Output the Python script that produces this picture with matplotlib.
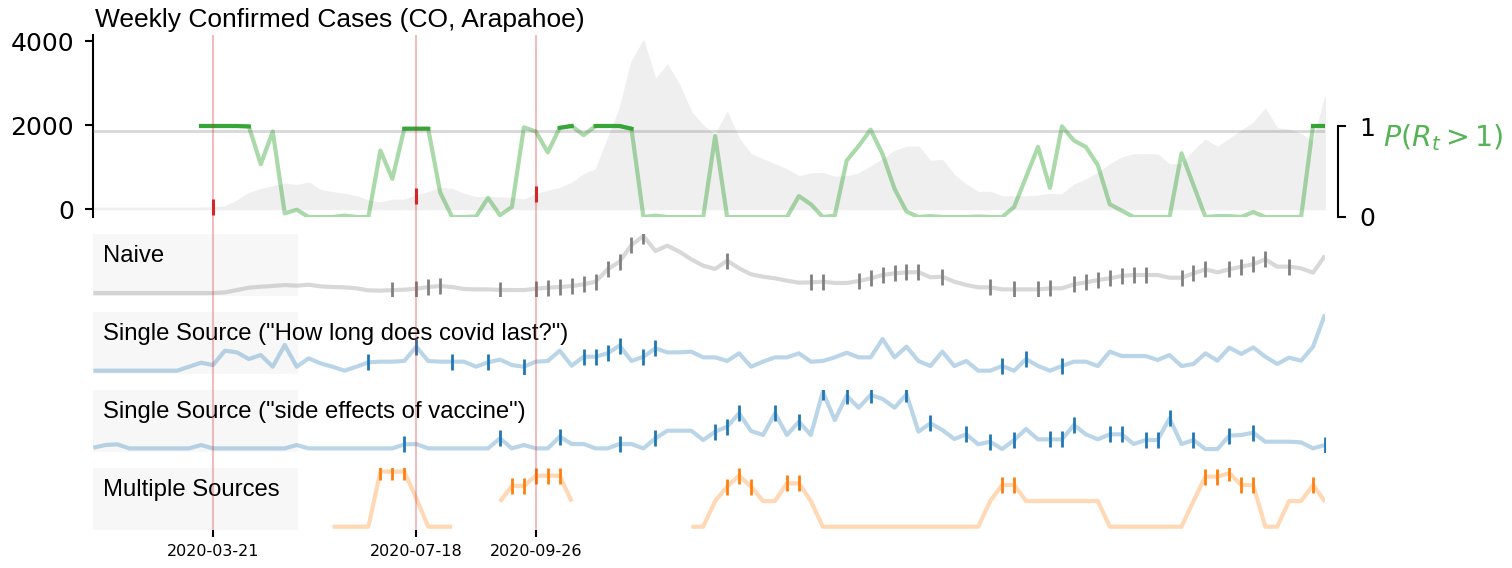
import matplotlib
matplotlib.use('Agg')
import matplotlib.pyplot as plt
import numpy as np
import pandas as pd
from matplotlib.patches import Rectangle

nan = np.nan

# weekly grid
weeks = pd.date_range('2020-01-11', periods=104, freq='7D')
event_dates = pd.to_datetime(['2020-03-21', '2020-07-18', '2020-09-26'])

cases = [30, 30, 30, 30, 30, 30, 30, 30, 30, 30,
         40, 60, 200, 380, 475, 540, 600, 570, 630, 450,
         400, 360, 305, 200, 150, 220, 220, 320, 400, 500,
         475, 360, 280, 280, 275, 265, 220, 350, 430, 500,
         620, 830, 940, 1670, 2390, 3520, 4020, 3095, 3440, 2960,
         2310, 1990, 1765, 2310, 1670, 1305, 1185, 1065, 940, 780,
         845, 860, 765, 780, 845, 1010, 1185, 1385, 1480, 1490,
         1145, 1170, 805, 580, 400, 410, 300, 300, 300, 315,
         360, 345, 580, 700, 860, 1065, 1225, 1305, 1305, 1300,
         1065, 1065, 1385, 1650, 1480, 1670, 1870, 2055, 2390, 1925,
         1895, 1790, 1590, 2660]

p_rt = [nan] * 9 + [
    1.0, 1.0, 1.0, 1.0, 0.995, 0.58, 0.94, 0.04, 0.08, 0.0,
    0.0, 0.0, 0.015, 0.0, 0.0, 0.73, 0.42, 0.97, 0.97, 0.97,
    0.27, 0.0, 0.0, 0.005, 0.21, 0.02, 0.11, 0.985, 0.94, 0.71,
    0.98, 1.0, 0.90, 1.0, 1.0, 1.0, 0.97, 0.0, 0.015, 0.0,
    0.0, 0.0, 0.0, 0.89, 0.0, 0.0, 0.0, 0.0, 0.0, 0.0,
    0.23, 0.14, 0.0, 0.015, 0.62, 0.78, 0.96, 0.69, 0.31, 0.06,
    0.0, 0.01, 0.0, 0.0, 0.0, 0.005, 0.0, 0.0, 0.11, 0.44,
    0.77, 0.32, 0.996, 0.84, 0.77, 0.57, 0.14, 0.07, 0.0, 0.0,
    0.0, 0.0, 0.70, 0.35, 0.0, 0.01, 0.01, 0.0, 0.055, 0.0,
    0.0, 0.0, 0.0, 1.0, 1.0]

naive = [4.3, 4.3, 4.3, 4.3, 4.3, 4.3, 4.3, 4.3, 4.3, 4.3,
         4.3, 5.4, 9.2, 13, 14.7, 15.8, 17.4, 16.3, 17.9, 15.2,
         14.1, 13.6, 12, 8.7, 8.2, 9.2, 9.8, 11.4, 14.1, 15.8,
         14.1, 10.9, 10.3, 10.3, 9.5, 9.2, 9.2, 11.4, 13, 14.1,
         15.8, 18.5, 22.8, 42.9, 55.4, 82.6, 97.3, 72.8, 81.5, 71.7,
         59.2, 48.9, 43.5, 57.1, 44.6, 34.8, 31, 28.3, 24.5, 21.2,
         21.7, 22.8, 20.7, 20.7, 23.9, 28.3, 33.7, 36.4, 38, 38.5,
         29.9, 31, 22.8, 17.4, 13.6, 13.6, 10.3, 10.3, 10.3, 10.3,
         12, 12, 18.5, 21.7, 25.5, 28.3, 32.1, 33.7, 33.7, 33.7,
         29.3, 29.3, 36.4, 42.9, 38, 42.9, 47.3, 51.1, 59.2, 47.3,
         47.3, 44.6, 37.5, 65.2]

single_covid = [4.9, 4.9, 4.9, 4.9, 4.9, 4.9, 4.9, 4.9, 11.4, 17.9,
                14.1, 37.5, 34.8, 23.9, 30.4, 11.4, 46.7, 11.4, 25, 16.8,
                11.4, 4.9, 11.4, 18.5, 19.6, 19.6, 20.7, 44, 20.7, 19.6,
                19.6, 19.6, 11.4, 18.5, 23, 14.1, 11.4, 19.6, 20.7, 37.5,
                13, 27.7, 27.7, 33.2, 45.7, 20.7, 27.7, 41.3, 34.8, 34.8,
                35.9, 26.6, 26.6, 20.7, 33.2, 11.4, 19.6, 26.6, 26.6, 33.2,
                19.6, 20.7, 26.6, 34.2, 26.6, 26.6, 56.5, 26.6, 44, 20.7,
                12.5, 35.9, 12.5, 20.7, 4.9, 4.9, 12.5, 4.9, 23.9, 12.5,
                4.9, 12.5, 19.6, 19.6, 12.5, 35.9, 28.8, 28.8, 28.8, 22.3,
                30.4, 12.5, 15.8, 33.2, 21.2, 42.4, 32.1, 42.9, 27.7, 15.8,
                26.1, 21.2, 44, 96.7]

single_vaccine = [6.5, 10.9, 12, 5.4, 5.4, 5.4, 5.4, 5.4, 5.4, 10.9,
                  5.4, 5.4, 5.4, 5.4, 5.4, 5.4, 5.4, 10.9, 5.4, 5.4,
                  5.4, 5.4, 5.4, 5.4, 5.4, 5.4, 12, 12.5, 5.4, 5.4,
                  5.4, 5.4, 5.4, 5.4, 21.7, 5.4, 10.9, 5.4, 5.4, 24.5,
                  12.5, 12.5, 5.4, 5.4, 12.5, 12.5, 5.4, 21.7, 34.2, 34.2,
                  34.2, 19, 32.6, 40.8, 62.5, 33.7, 27.2, 62.5, 27.2, 48.9,
                  27.2, 97.8, 51.6, 91.3, 71.7, 92.4, 85.9, 71.7, 93.5, 32.6,
                  46.2, 35.3, 20.7, 28.3, 12, 16.3, 4.3, 19, 37, 20.1,
                  20.1, 20.1, 43.5, 28.3, 20.1, 28.3, 28.3, 12.5, 19, 19,
                  54.3, 12.5, 19, 4.3, 4.3, 26.1, 27.2, 31, 16.3, 16.3,
                  16.3, 15.2, 5.4, 10.9]

multiple = [nan] * 20 + [
    4.9, 4.9, 4.9, 4.9, 94.6, 94.6, 94.6, 51.1, 4.9, 4.9,
    4.9, nan, nan, nan, 45.7, 71.2, 71.2, 88, 88, 88,
    45.7, nan, nan, nan, nan, nan, nan, nan, nan, nan,
    4.9, 4.9, 46.7, 70.1, 88, 70.1, 46.7, 46.7, 75.5, 75.5,
    46.7, 4.9, 4.9, 4.9, 4.9, 4.9, 4.9, 4.9, 4.9, 4.9,
    4.9, 4.9, 4.9, 4.9, 4.9, 46.7, 72.8, 72.8, 46.7, 46.7,
    46.7, 46.7, 46.7, 46.7, 46.7, 4.9, 4.9, 4.9, 4.9, 4.9,
    4.9, 4.9, 46.7, 86.4, 86.4, 91.8, 72.8, 72.8, 4.9, 4.9,
    46.7, 46.7, 72.8, 45.7]

# weeks flagged by each method (index into weeks)
naive_flags = [25, 27, 28, 29, 34, 37, 38, 39, 40, 41, 42, 43, 44, 45, 46, 53, 60, 61,
               64, 65, 66, 67, 68, 69, 71, 75, 77, 79, 80, 82, 83, 84, 85, 86, 87, 88,
               91, 92, 93, 95, 96, 97, 98, 100]
covid_flags = [23, 27, 30, 33, 36, 41, 42, 43, 44, 46, 47, 76, 78, 81]
vaccine_flags = [26, 34, 39, 44, 47, 52, 53, 54, 57, 59, 61, 63, 65, 68, 70, 73, 75, 77,
                 80, 81, 82, 85, 86, 88, 89, 90, 92, 95, 97, 103]
multiple_flags = [24, 25, 26, 35, 36, 37, 38, 39, 53, 54, 55, 58, 59, 76, 77, 93, 94,
                  95, 96, 97, 102]

panel_labels = ['Naive', 'Single Source ("How long does covid last?")',
                'Single Source ("side effects of vaccine")', 'Multiple Sources']

TXT = 'Liberation Sans'
W_PX, H_PX = 1512, 568
fig = plt.figure(figsize=(W_PX / 100, H_PX / 100), dpi=100)
left = 93.4 / W_PX
width = (1325 - 93.4) / W_PX

# top panel: cases + P(Rt>1)
ax = fig.add_axes([left, 1 - 217 / H_PX, width, 182 / H_PX])
ax.fill_between(weeks, cases, color='#efefef', lw=1)
ev_idx = [weeks.get_loc(d) for d in event_dates]
ax.plot(event_dates, np.array(cases)[ev_idx], ls='none', marker='|', ms=11.5,
        mew=2.2, color='tab:red')
ax.set_xlim(weeks[0], weeks[-1])
ax.set_ylim(-190, 4155)
ax.set_yticks([0, 2000, 4000])
ax.set_xticks([])
for s in ['top', 'right', 'bottom']:
    ax.spines[s].set_visible(False)
ax.spines['left'].set_linewidth(1.5)
ax.tick_params(axis='y', labelsize=18, width=1.5, length=6, pad=8)

ax2 = ax.twinx()
p = np.array(p_rt)
ax2.plot(weeks, p, color='tab:green', alpha=0.4, lw=3)
ax2.plot(weeks, np.where(p >= 0.95, p, nan), color='tab:green', alpha=0.9, lw=3)
ax2.axhline(0.95, color='grey', alpha=0.3, lw=2)
ax2.set_ylim(0, 2)
ax2.set_yticks([0, 1])
for s in ['top', 'left', 'bottom']:
    ax2.spines[s].set_visible(False)
ax2.spines['right'].set_bounds(0, 1)
ax2.spines['right'].set_position(('outward', 9))
ax2.spines['right'].set_linewidth(1.5)
ax2.tick_params(axis='y', labelsize=18, width=1.5, length=6, pad=10)
ax2.set_xlim(weeks[0], weeks[-1])

fig.text(1383 / W_PX, 1 - 138 / H_PX, r'$P(R_t > 1)$', color='tab:green', alpha=0.8,
         fontsize=20.5, va='center', ha='left')
fig.text(95 / W_PX, 1 - 27 / H_PX, 'Weekly Confirmed Cases (CO, Arapahoe)',
         fontsize=19, family=TXT, va='baseline')

# lower panels
series = [naive, single_covid, single_vaccine, multiple]
flags = [naive_flags, covid_flags, vaccine_flags, multiple_flags]
colors = ['grey', 'tab:blue', 'tab:blue', 'tab:orange']
tops = [234.3, 312.3, 390.3, 468.3]
ph = 61.4
for label, vals, idx, c, top in zip(panel_labels, series, flags, colors, tops):
    a = fig.add_axes([left, 1 - (top + ph) / H_PX, width, ph / H_PX])
    a.add_patch(Rectangle((0, 0), 0.1665, 1, transform=a.transAxes,
                          color='#f7f7f7', lw=0, zorder=0))
    v = np.array(vals, dtype=float)
    a.plot(weeks, v, color=c, alpha=0.3, lw=3, solid_capstyle='butt')
    a.plot(weeks[idx], v[idx], ls='none', marker='|', ms=11, mew=2, color=c)
    a.text(9.6 / 1232, 1 - 10.7 / ph, label, transform=a.transAxes, va='top',
           ha='left', fontsize=17.2, family=TXT)
    a.set_xlim(weeks[0], weeks[-1])
    a.set_ylim(0, 100)
    for s in a.spines.values():
        s.set_visible(False)
    a.set_yticks([])
    a.set_xticks([])
    last = a

last.set_xticks(event_dates)
last.set_xticklabels([d.strftime('%Y-%m-%d') for d in event_dates])
last.tick_params(axis='x', labelsize=11.5, width=1.5, length=5, pad=5)

# event lines across all panels
ov = fig.add_axes([left, 1 - 530 / H_PX, width, (530 - 35) / H_PX], zorder=10)
ov.patch.set_visible(False)
ov.set_xlim(weeks[0], weeks[-1])
ov.set_ylim(0, 1)
ov.axis('off')
for d in event_dates:
    ov.axvline(d, color='tab:red', alpha=0.3, lw=1.5)

fig.savefig('out.png', dpi=100)
